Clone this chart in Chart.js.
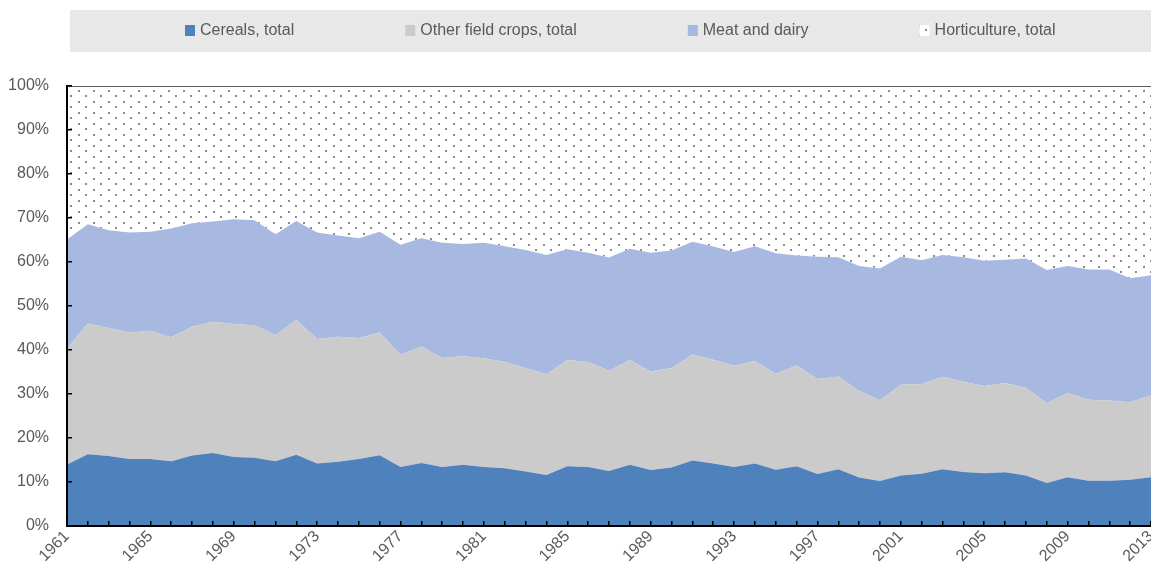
<!DOCTYPE html>
<html>
<head>
<meta charset="utf-8">
<title>Shares in value of agricultural production</title>
<script src="https://cdn.jsdelivr.net/npm/chart.js@4.4.1/dist/chart.umd.min.js"></script>
<style>
  body { margin: 0; background: #fff; }
  #wrap { width: 1151px; height: 568px; }
</style>
</head>
<body>
<div id="wrap"><canvas id="shareChart" width="1151" height="568"></canvas></div>
<script>
// Years on the category axis
const years = [
    '1961', '1962', '1963', '1964', '1965', '1966', '1967', '1968', '1969', '1970',
    '1971', '1972', '1973', '1974', '1975', '1976', '1977', '1978', '1979', '1980',
    '1981', '1982', '1983', '1984', '1985', '1986', '1987', '1988', '1989', '1990',
    '1991', '1992', '1993', '1994', '1995', '1996', '1997', '1998', '1999', '2000',
    '2001', '2002', '2003', '2004', '2005', '2006', '2007', '2008', '2009', '2010',
    '2011', '2012', '2013'
];

// Shares of total production value, in percent
const cereals = [
    14.0, 16.3, 15.9, 15.2, 15.2, 14.7, 16.0, 16.6, 15.7, 15.5,
    14.7, 16.2, 14.2, 14.6, 15.2, 16.1, 13.4, 14.3, 13.4, 13.9,
    13.4, 13.1, 12.4, 11.6, 13.6, 13.4, 12.5, 13.9, 12.7, 13.3,
    14.9, 14.2, 13.4, 14.2, 12.8, 13.6, 11.8, 12.9, 11.0, 10.2,
    11.5, 11.9, 12.9, 12.3, 12.0, 12.2, 11.5, 9.8, 11.1, 10.3,
    10.3, 10.5, 11.1
];
const otherCrops = [
    26.3, 29.7, 29.1, 28.8, 29.2, 28.2, 29.3, 29.8, 30.2, 30.1,
    28.7, 30.7, 28.3, 28.4, 27.5, 27.9, 25.5, 26.5, 24.8, 24.7,
    24.7, 24.2, 23.5, 22.9, 24.1, 23.9, 22.8, 23.8, 22.4, 22.6,
    24.1, 23.6, 23.0, 23.3, 21.8, 22.9, 21.6, 21.1, 19.7, 18.4,
    20.6, 20.4, 21.0, 20.5, 19.8, 20.3, 19.9, 18.1, 19.1, 18.4,
    18.2, 17.6, 18.6
];
const meatDairy = [
    24.8, 22.6, 22.2, 22.7, 22.5, 24.7, 23.5, 22.8, 23.8, 23.9,
    22.9, 22.4, 24.2, 23.0, 22.7, 22.9, 25.0, 24.6, 26.2, 25.5,
    26.3, 26.3, 26.8, 27.1, 25.2, 24.8, 25.7, 25.3, 27.0, 26.7,
    25.6, 25.7, 25.9, 26.1, 27.4, 25.0, 27.8, 27.1, 28.4, 29.9,
    29.1, 28.1, 27.7, 28.3, 28.5, 28.0, 29.4, 30.3, 28.9, 29.6,
    29.8, 28.2, 27.3
];
const horticulture = [
    34.9, 31.4, 32.8, 33.3, 33.1, 32.4, 31.2, 30.8, 30.3, 30.5,
    33.7, 30.7, 33.3, 34.0, 34.6, 33.1, 36.1, 34.6, 35.6, 35.9,
    35.6, 36.4, 37.3, 38.4, 37.1, 37.9, 39.0, 37.0, 37.9, 37.4,
    35.4, 36.5, 37.7, 36.4, 38.0, 38.5, 38.8, 38.9, 40.9, 41.5,
    38.8, 39.6, 38.4, 38.9, 39.7, 39.5, 39.2, 41.8, 40.9, 41.7,
    41.7, 43.7, 43.0
];

const textColor = '#595959';
const labelFont = { family: '"Liberation Sans", Arial, sans-serif', size: 16 };

/**
 * Grey dot texture used for the horticulture band
 */
function dotPattern() {
    const tile = document.createElement('canvas');
    tile.width = 15;
    tile.height = 11;
    const c = tile.getContext('2d');
    c.fillStyle = '#ffffff';
    c.fillRect(0, 0, tile.width, tile.height);
    c.fillStyle = '#8c8c8c';
    c.fillRect(3, 2, 2, 2);
    c.fillRect(10, 7, 2, 2);
    return c.createPattern(tile, 'repeat');
}

/**
 * Legend drawn in a grey band above the plot
 */
const legendBand = {
    id: 'legendBand',
    afterDraw(chart) {
        const ctx = chart.ctx;
        ctx.save();
        ctx.fillStyle = '#e8e8e8';
        ctx.fillRect(70, 10, 1101, 42);

        ctx.font = labelFont.size + 'px ' + labelFont.family;
        ctx.textBaseline = 'middle';
        const gap = 111;
        const swatchW = 10;
        const textGap = 5;
        const items = chart.data.datasets.map(ds => ({
            label: ds.label,
            fill: ds.backgroundColor,
            width: ctx.measureText(ds.label).width
        }));
        const total = items.reduce((sum, it) => sum + swatchW + textGap + it.width, 0) + gap * (items.length - 1);
        let x = Math.round(620.5 - total / 2);

        items.forEach(it => {
            ctx.fillStyle = it.fill;
            ctx.fillRect(x, 25, swatchW, 11);
            ctx.fillStyle = textColor;
            ctx.fillText(it.label, x + swatchW + textGap, 31);
            x += swatchW + textGap + it.width + gap;
        });
        ctx.restore();
    }
};

document.addEventListener('DOMContentLoaded', function() {
    const canvas = document.querySelector('#shareChart');
    const ctx = canvas.getContext('2d');

    const axisGrid = {
        drawOnChartArea: false,
        tickLength: -5,
        color: '#000000',
        lineWidth: 1.5,
        z: 1
    };
    const axisBorder = { color: '#000000', width: 2, z: 1 };

    new Chart(ctx, {
        type: 'line',
        data: {
            labels: years,
            datasets: [
                { label: 'Cereals, total', data: cereals, backgroundColor: '#4f81bd', borderWidth: 0, fill: 'origin' },
                { label: 'Other field crops, total', data: otherCrops, backgroundColor: '#cbcbcb', borderWidth: 0, fill: '-1' },
                { label: 'Meat and dairy', data: meatDairy, backgroundColor: '#a7b8e1', borderWidth: 0, fill: '-1' },
                { label: 'Horticulture, total', data: horticulture, backgroundColor: dotPattern(), borderColor: '#262626', borderWidth: 1.5, fill: '-1' }
            ]
        },
        options: {
            responsive: false,
            animation: false,
            layout: { padding: { top: 86, right: 0, bottom: 0, left: 0 } },
            elements: {
                point: { radius: 0 },
                line: { tension: 0 }
            },
            plugins: {
                legend: { display: false },
                tooltip: { enabled: false }
            },
            scales: {
                x: {
                    grid: axisGrid,
                    border: axisBorder,
                    ticks: {
                        autoSkip: false,
                        minRotation: 45,
                        maxRotation: 45,
                        padding: 6,
                        color: textColor,
                        font: labelFont,
                        callback: function(value, index) {
                            return index % 4 === 0 ? this.getLabelForValue(value) : '';
                        }
                    },
                    afterFit: function(scale) {
                        scale.height = 42;
                        scale.paddingRight = 0;
                    }
                },
                y: {
                    stacked: true,
                    min: 0,
                    max: 100,
                    grid: axisGrid,
                    border: axisBorder,
                    ticks: {
                        stepSize: 10,
                        padding: 23,
                        color: textColor,
                        font: labelFont,
                        callback: value => value + '%'
                    },
                    afterFit: function(scale) {
                        scale.width = 67;
                    }
                }
            }
        },
        plugins: [legendBand]
    });
});
</script>
</body>
</html>
